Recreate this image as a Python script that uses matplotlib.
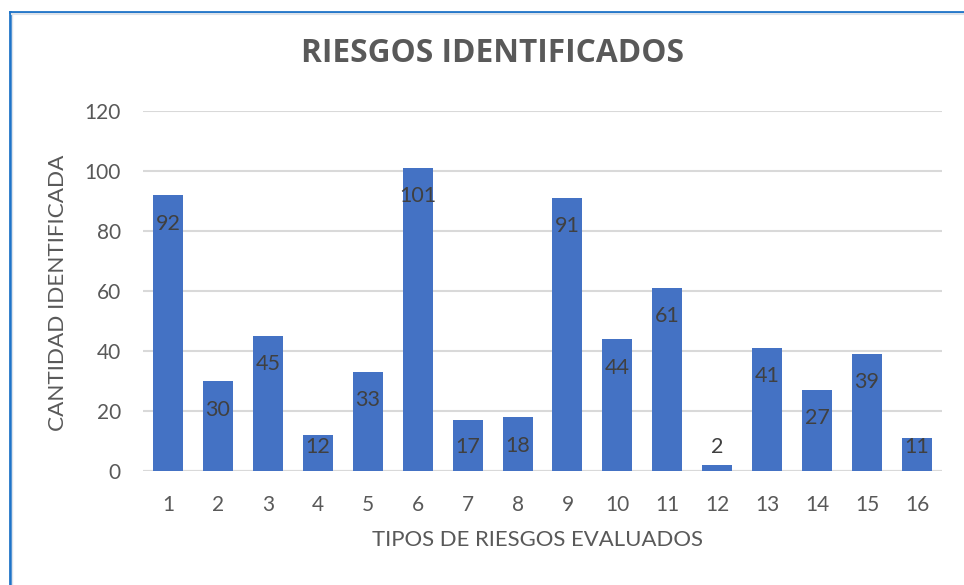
import matplotlib
matplotlib.use("Agg")
import matplotlib.pyplot as plt
from matplotlib.lines import Line2D

categories = [str(i) for i in range(1, 17)]
values = [92, 30, 45, 12, 33, 101, 17, 18, 91, 44, 61, 2, 41, 27, 39, 11]
yticks = [0, 20, 40, 60, 80, 100, 120]
title = "RIESGOS IDENTIFICADOS"
xlabel = "TIPOS DE RIESGOS EVALUADOS"
ylabel = "CANTIDAD IDENTIFICADA"

W, H = 964, 585
fig = plt.figure(figsize=(W / 100, H / 100), dpi=100)
fig.patch.set_facecolor("white")
ax = fig.add_axes([143 / W, 1 - 471 / H, (942 - 143) / W, (471 - 111) / H])

x = list(range(len(categories)))
ax.bar(x, values, width=0.6, color="#4472C4", zorder=3)
ax.set_xlim(-0.5, len(categories) - 0.5)
ax.set_ylim(0, 120)
ax.set_yticks(yticks)
ax.set_xticks(x)
ax.set_xticklabels(categories)
ax.grid(axis="y", color="#D9D9D9", linewidth=1.5, zorder=0)
for s in ax.spines.values():
    s.set_visible(False)
ax.axhline(0, color="#D9D9D9", linewidth=1.5, zorder=2)
ax.tick_params(axis="both", length=0, colors="#595959", labelsize=15)
ax.tick_params(axis="y", pad=16)
ax.tick_params(axis="x", pad=17)
for lab in ax.get_xticklabels() + ax.get_yticklabels():
    lab.set_family("Lato")

for xi, v in zip(x, values):
    ax.text(xi, max(v - 9.5, 8), str(v), ha="center", va="center",
            fontsize=15.5, color="#404040", family="Lato", zorder=4)

fig.text(493 / W, 1 - 53 / H, title, ha="center", va="center",
         fontsize=22.8, fontweight="bold", color="#595959", family="Open Sans")
fig.text(537 / W, 1 - 540 / H, xlabel, ha="center", va="center",
         fontsize=15.9, color="#595959", family="Lato")
fig.text(58 / W, 1 - 293 / H, ylabel, ha="center", va="center", rotation=90,
         fontsize=16.2, color="#595959", family="Lato")

# frame border (blue) top and left with faint shadow
fig.add_artist(Line2D([9.5 / W, 9.5 / W], [0, 1 - 11.5 / H], transform=fig.transFigure,
                      color="#1F74C8", linewidth=2))
fig.add_artist(Line2D([9.5 / W, 1], [1 - 11.5 / H, 1 - 11.5 / H], transform=fig.transFigure,
                      color="#1F74C8", linewidth=2))
fig.add_artist(Line2D([11.5 / W, 1], [1 - 13.5 / H, 1 - 13.5 / H], transform=fig.transFigure,
                      color="#DDE3EA", linewidth=1.5))
fig.add_artist(Line2D([11.5 / W, 11.5 / W], [0, 1 - 13.5 / H], transform=fig.transFigure,
                      color="#DDE3EA", linewidth=1.0))

fig.savefig("out.png", dpi=100)
